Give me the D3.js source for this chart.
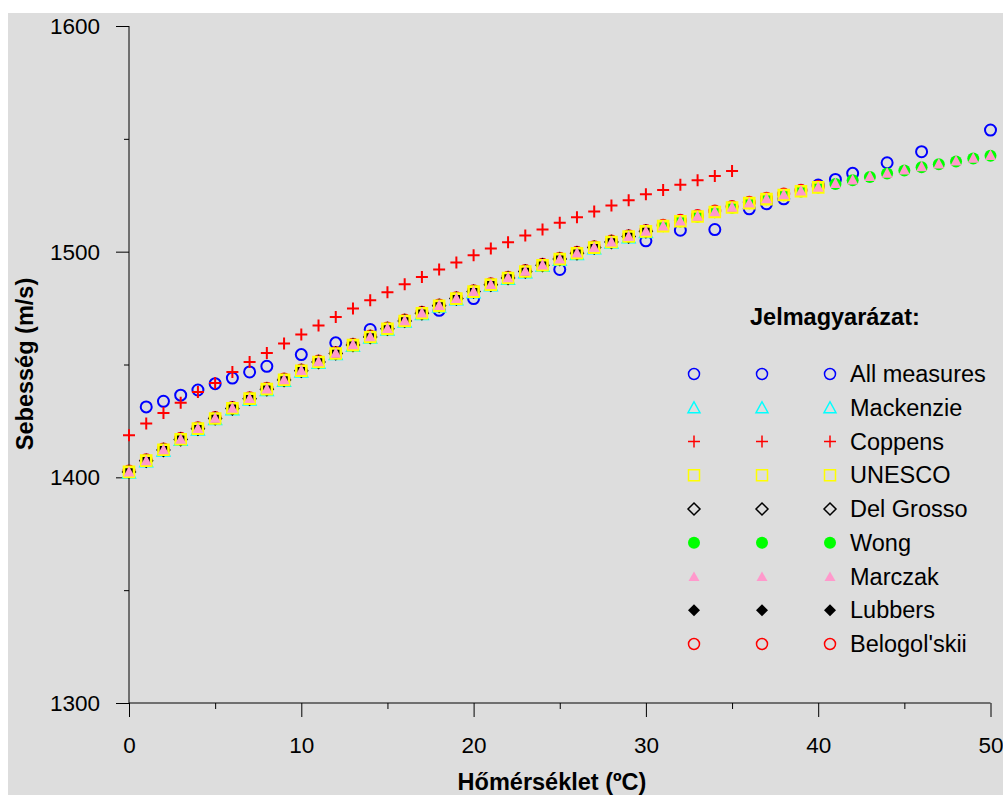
<!DOCTYPE html>
<html>
<head>
<meta charset="utf-8">
<script src="https://cdn.jsdelivr.net/npm/d3@7"></script>
<style>
  html, body { margin: 0; padding: 0; background: #ffffff; }
  svg { display: block; }
  text { font-family: Arial, "Liberation Sans", sans-serif; fill: #000; }
</style>
</head>
<body>
<svg id="chart" width="1003" height="795"></svg>
<script>
// ---------- DATA ----------
const xTicks = [0, 10, 20, 30, 40, 50];
const yTicks = [1300, 1400, 1500, 1600];
const xTitle = "Hőmérséklet (ºC)";
const yTitle = "Sebesség (m/s)";
const legendTitle = "Jelmagyarázat:";

const temps0to30 = [0,1,2,3,4,5,6,7,8,9,10,11,12,13,14,15,16,17,18,19,20,21,22,23,24,25,26,27,28,29,30];
const temps0to35 = [0,1,2,3,4,5,6,7,8,9,10,11,12,13,14,15,16,17,18,19,20,21,22,23,24,25,26,27,28,29,30,31,32,33,34,35];
const temps0to40 = [0,1,2,3,4,5,6,7,8,9,10,11,12,13,14,15,16,17,18,19,20,21,22,23,24,25,26,27,28,29,30,31,32,33,34,35,36,37,38,39,40];
const temps0to50 = [0,1,2,3,4,5,6,7,8,9,10,11,12,13,14,15,16,17,18,19,20,21,22,23,24,25,26,27,28,29,30,31,32,33,34,35,36,37,38,39,40,41,42,43,44,45,46,47,48,49,50];

const allMeasuresT = [1,2,3,4,5,6,7,8,10,12,14,18,20,25,30,32,34,36,37,38,40,41,42,44,46,50];
const allMeasuresV = [1431.2,1433.7,1436.4,1438.7,1441.5,1444.0,1446.7,1449.2,1454.4,1459.6,1465.5,1474.0,1479.2,1492.1,1504.8,1509.5,1509.8,1519.0,1521.2,1523.4,1529.5,1532.0,1534.7,1539.4,1544.3,1553.9];

const mackenzieV = [1402.0,1407.0,1411.8,1416.5,1421.1,1425.7,1430.1,1434.4,1438.6,1442.7,1446.8,1450.7,1454.5,1458.2,1461.8,1465.4,1468.9,1472.3,1475.6,1478.8,1481.9,1485.0,1487.9,1490.8,1493.6,1496.3,1498.9,1501.4,1503.9,1506.3,1508.6];

const coppensV = [1418.6,1423.8,1428.5,1433.1,1437.8,1441.8,1446.7,1451.1,1455.1,1459.3,1463.3,1467.3,1471.1,1474.8,1478.5,1482.0,1485.6,1488.8,1492.1,1495.2,1498.4,1501.4,1504.2,1507.2,1509.8,1512.8,1515.3,1517.8,1520.5,1522.8,1525.4,1527.3,1529.6,1531.7,1533.5,1535.8];

const unescoV = [1402.4,1407.4,1412.2,1416.9,1421.6,1426.1,1430.6,1434.9,1439.1,1443.2,1447.2,1451.1,1454.9,1458.6,1462.2,1465.8,1469.3,1472.7,1476.0,1479.2,1482.3,1485.4,1488.3,1491.2,1494.0,1496.7,1499.3,1501.8,1504.3,1506.7,1509.0,1511.3,1513.5,1515.6,1517.6,1519.6,1521.5,1523.3,1525.1,1526.8,1528.5];

const delGrossoV = [1402.4,1407.3,1412.1,1416.8,1421.5,1426.1,1430.5,1434.8,1439.0,1443.1,1447.2,1451.1,1454.9,1458.6,1462.2,1465.8,1469.3,1472.7,1476.0,1479.2,1482.3,1485.3,1488.3,1491.2,1494.0,1496.7,1499.3,1501.8,1504.3,1506.7,1509.0];

const wongV = [1402.4,1407.4,1412.2,1416.9,1421.5,1426.1,1430.5,1434.8,1439.0,1443.1,1447.2,1451.1,1454.9,1458.6,1462.2,1465.8,1469.3,1472.7,1476.0,1479.2,1482.3,1485.3,1488.3,1491.2,1494.0,1496.7,1499.3,1501.8,1504.3,1506.7,1509.0,1511.3,1513.4,1515.5,1517.5,1519.5,1521.4,1523.2,1525.0,1526.7,1528.4,1530.0,1531.6,1533.1,1534.6,1536.0,1537.4,1538.7,1540.0,1541.3,1542.5];

const marczakV = [1402.4,1407.4,1412.2,1416.9,1421.6,1426.2,1430.6,1434.9,1439.1,1443.2,1447.3,1451.2,1455.0,1458.7,1462.3,1465.9,1469.4,1472.8,1476.1,1479.3,1482.4,1485.5,1488.4,1491.3,1494.1,1496.7,1499.4,1501.9,1504.3,1506.7,1509.1,1511.4,1513.6,1515.7,1517.7,1519.7,1521.6,1523.4,1525.2,1526.9,1528.6,1530.2,1531.8,1533.3,1534.8,1536.2,1537.6,1538.9,1540.2,1541.4,1542.6];

const lubbersV = [1402.5,1407.4,1412.2,1416.9,1421.6,1426.1,1430.5,1434.8,1439.0,1443.2,1447.2,1451.1,1455.0,1458.7,1462.3,1465.8,1469.3,1472.7,1476.0,1479.2,1482.4,1485.4,1488.4,1491.2,1494.0,1496.7,1499.3,1501.9,1504.3,1506.7,1509.1];

const belogolskiiV = [1402.8,1407.8,1412.6,1417.3,1422.0,1426.5,1431.0,1435.3,1439.5,1443.6,1447.6,1451.5,1455.3,1459.0,1462.6,1466.2,1469.7,1473.1,1476.4,1479.6,1482.7,1485.8,1488.7,1491.6,1494.4,1497.1,1499.7,1502.2,1504.7,1507.1,1509.4,1511.7,1513.9,1516.0,1518.0,1520.0,1521.9,1523.7,1525.5,1527.2,1528.9];

const legendNames = ["All measures","Mackenzie","Coppens","UNESCO","Del Grosso","Wong","Marczak","Lubbers","Belogol'skii"];

// ---------- SERIES DEFINITIONS ----------
const series = [
  {name:"All measures", t:allMeasuresT, v:allMeasuresV, shape:"circle", fill:"none", stroke:"#0000FF"},
  {name:"Mackenzie", t:temps0to30, v:mackenzieV, shape:"triangle", fill:"none", stroke:"#00FFFF"},
  {name:"Coppens", t:temps0to35, v:coppensV, shape:"plus", fill:"none", stroke:"#FF0000"},
  {name:"UNESCO", t:temps0to40, v:unescoV, shape:"square", fill:"none", stroke:"#FFFF00"},
  {name:"Del Grosso", t:temps0to30, v:delGrossoV, shape:"diamond", fill:"none", stroke:"#000000"},
  {name:"Wong", t:temps0to50, v:wongV, shape:"circle", fill:"#00FF00", stroke:"none"},
  {name:"Marczak", t:temps0to50, v:marczakV, shape:"triangle", fill:"#FF99CC", stroke:"none"},
  {name:"Lubbers", t:temps0to30, v:lubbersV, shape:"diamond", fill:"#000000", stroke:"none"},
  {name:"Belogol'skii", t:temps0to40, v:belogolskiiV, shape:"circle", fill:"none", stroke:"#FF0000"}
];
// plotting order (bottom layer first)
const drawOrder = ["All measures","Mackenzie","Coppens","Wong","Belogol'skii","Lubbers","Del Grosso","UNESCO","Marczak"];

// ---------- SHAPES ----------
function shapePath(shape, legend) {
  switch (shape) {
    case "circle":   return "M0,-5.5A5.5,5.5 0 1,1 0,5.5A5.5,5.5 0 1,1 0,-5.5Z";
    case "triangle": return "M0,-6L6,5L-6,5Z";
    case "plus":     return "M-6,0L6,0M0,-6L0,6";
    case "square":   return legend ? "M-5.5,-5.5L5.5,-5.5L5.5,5.5L-5.5,5.5Z" : "M-5,-5L5,-5L5,5L-5,5Z";
    case "diamond":  return "M0,-6L6,0L0,6L-6,0Z";
  }
}
function shapePathFilled(shape, legend) {
  switch (shape) {
    case "circle":   return "M0,-6A6,6 0 1,1 0,6A6,6 0 1,1 0,-6Z";
    case "triangle": return legend ? "M0,-5L5.5,4.5L-5.5,4.5Z" : "M0,-6L5.5,4.5L-5.5,4.5Z";
    case "diamond":  return "M0,-6L6,0L0,6L-6,0Z";
  }
}

// ---------- CHART ----------
const svg = d3.select("#chart");
svg.append("rect").attr("x", 8).attr("y", 13).attr("width", 995).attr("height", 782).attr("fill", "#DDDDDD");

const x = d3.scaleLinear().domain([0, 50]).range([129, 990.5]);
const y = d3.scaleLinear().domain([1300, 1600]).range([703, 26]);

// Y axis
const yAxis = d3.axisLeft(y).tickValues(yTicks).tickSize(13).tickFormat(d3.format("d"));
const gy = svg.append("g").attr("transform", "translate(129,0)").call(yAxis);
gy.select(".domain").attr("d", "M0," + y(1600) + "V" + y(1300)).attr("stroke", "#000");
gy.selectAll(".tick line").attr("stroke", "#000");
gy.selectAll(".tick text").attr("x", -29).attr("dy", null).attr("y", 0)
  .attr("dominant-baseline", "central")
  .style("font-size", "22.5px").style("font-family", "Arial, 'Liberation Sans', sans-serif").attr("fill", "#000");
const yMinor = d3.axisLeft(y).tickValues([1350, 1450, 1550]).tickSize(5).tickFormat("");
const gyMinor = svg.append("g").attr("transform", "translate(129,0)").call(yMinor);
gyMinor.select(".domain").remove();
gyMinor.selectAll(".tick line").attr("stroke", "#000");

// X axis
const xAxis = d3.axisBottom(x).tickValues(xTicks).tickSize(14).tickFormat(d3.format("d"));
const gx = svg.append("g").attr("transform", "translate(0,703)").call(xAxis);
gx.select(".domain").attr("d", "M" + x(0) + ",0H" + x(50)).attr("stroke", "#000");
gx.selectAll(".tick line").attr("stroke", "#000");
gx.selectAll(".tick text").attr("y", 50).attr("dy", null)
  .style("font-size", "22.5px").style("font-family", "Arial, 'Liberation Sans', sans-serif").attr("fill", "#000");
const xMinor = d3.axisBottom(x).tickValues([5, 15, 25, 35, 45]).tickSize(6).tickFormat("");
const gxMinor = svg.append("g").attr("transform", "translate(0,703)").call(xMinor);
gxMinor.select(".domain").remove();
gxMinor.selectAll(".tick line").attr("stroke", "#000");

// Axis titles
svg.append("text").attr("x", 552).attr("y", 790).attr("text-anchor", "middle")
  .style("font-size", "23.5px").style("font-weight", "bold").text(xTitle);
svg.append("text").attr("transform", "translate(33,364) rotate(-90)").attr("text-anchor", "middle")
  .style("font-size", "23.5px").style("font-weight", "bold").text(yTitle);

// Marks
function drawMarker(sel, s, strokeW, legend) {
  if (s.fill !== "none") {
    sel.attr("d", shapePathFilled(s.shape, legend)).attr("fill", s.fill).attr("stroke", "none");
  } else {
    const w = (!legend && s.shape === "square") ? 2.6 : strokeW;
    sel.attr("d", shapePath(s.shape, legend)).attr("fill", "none").attr("stroke", s.stroke).attr("stroke-width", w);
  }
}
drawOrder.forEach(name => {
  const s = series.find(d => d.name === name);
  const pts = s.t.map((t, i) => ({t: t, v: s.v[i]}));
  svg.append("g").selectAll("path").data(pts).join("path")
    .attr("transform", d => "translate(" + x(d.t) + "," + y(d.v) + ")")
    .call(sel => drawMarker(sel, s, 2, false));
});

// Legend
svg.append("text").attr("x", 750).attr("y", 325)
  .style("font-size", "23.5px").style("font-weight", "bold").text(legendTitle);
const legendCols = [694, 762, 830];
const legendY = d3.scaleLinear().domain([0, legendNames.length - 1]).range([374, 644]);
legendNames.forEach((name, i) => {
  const s = series.find(d => d.name === name);
  const cy = legendY(i);
  legendCols.forEach(cx => {
    svg.append("path").attr("transform", "translate(" + cx + "," + cy + ")").call(sel => drawMarker(sel, s, 1.5, true));
  });
  svg.append("text").attr("x", 850).attr("y", cy + 8).style("font-size", "23.5px").text(name);
});
</script>
</body>
</html>
